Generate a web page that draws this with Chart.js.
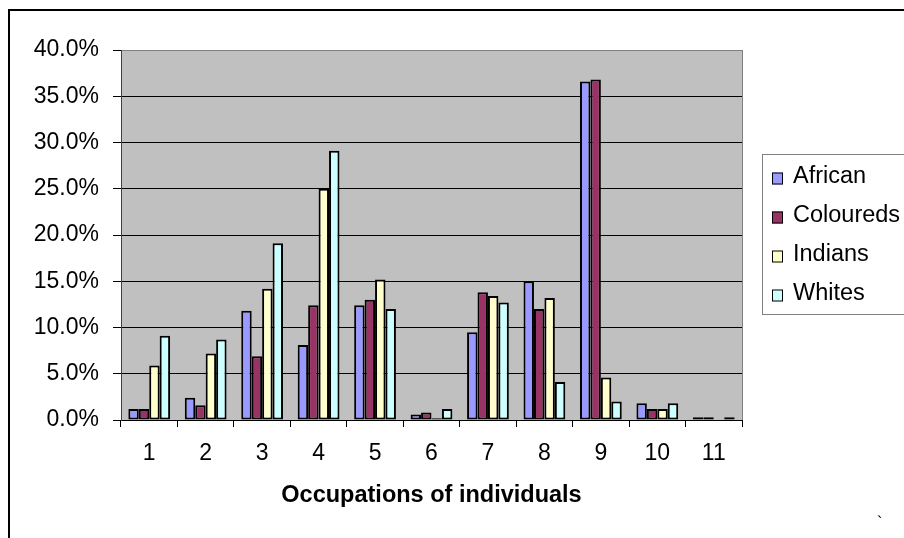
<!DOCTYPE html>
<html>
<head>
<meta charset="utf-8">
<script src="https://cdn.jsdelivr.net/npm/chart.js@4/dist/chart.umd.min.js"></script>
<style>
	body{ margin:0; overflow:hidden; background:#fff; }
	#box{ position:relative; width:904px; height:538px; }
</style>
</head>
<body>
<div id="box"><canvas id="grafica"></canvas></div>
<script>
	let ocupaciones = ["1","2","3","4","5","6","7","8","9","10","11"];
	let grupos = ["African","Coloureds","Indians","Whites"];
	let colores = ["#9999FF","#993366","#FFFFCC","#CCFFFF"];
	let african   = [1.2, 2.4, 11.8, 8.1, 12.4, 0.6, 9.5, 15.0, 36.6, 1.8, 0.3];
	let coloureds = [1.2, 1.6, 6.9, 12.4, 13.0, 0.8, 13.8, 12.0, 36.8, 1.2, 0.3];
	let indians   = [5.9, 7.2, 14.2, 25.0, 15.2, 0.2, 13.4, 13.2, 4.6, 1.2, 0];
	let whites    = [9.1, 8.7, 19.1, 29.1, 12.0, 1.2, 12.7, 4.1, 2.0, 1.8, 0.3];
	let yMax = 40, yPaso = 5;
	let tituloX = "Occupations of individuals";

	Chart.defaults.font.family = "'Liberation Sans', Arial, sans-serif";
	Chart.defaults.color = "#000";

	// fondo gris del area, marco exterior y leyenda
	let fondo = {
		id:"fondo",
		beforeDraw(chart){
			let a = chart.chartArea, ctx = chart.ctx;
			ctx.save();
			ctx.fillStyle = "#C0C0C0";
			ctx.fillRect(a.left, a.top, a.right - a.left, a.bottom - a.top);
			ctx.restore();
		},
		afterDraw(chart){
			let a = chart.chartArea, ctx = chart.ctx;
			ctx.save();
			ctx.strokeStyle = "#808080";
			ctx.lineWidth = 1;
			ctx.beginPath();
			ctx.moveTo(a.right + 0.5, a.top);
			ctx.lineTo(a.right + 0.5, a.bottom);
			ctx.stroke();
			ctx.strokeStyle = "#000";
			ctx.lineWidth = 2;
			ctx.strokeRect(9, 10, 1000, 1000);
			// leyenda
			ctx.strokeStyle = "#808080";
			ctx.lineWidth = 1;
			ctx.strokeRect(762.5, 154.5, 160, 160);
			ctx.font = "23.5px 'Liberation Sans', Arial, sans-serif";
			ctx.textBaseline = "alphabetic";
			chart.data.datasets.forEach(function(ds, i){
				let base = 182.5 + 39 * i;
				ctx.fillStyle = ds.backgroundColor;
				ctx.fillRect(772, base - 10, 11, 12);
				ctx.strokeStyle = "#000";
				ctx.lineWidth = 1;
				ctx.strokeRect(772.5, base - 9.5, 10, 11);
				ctx.fillStyle = "#000";
				ctx.fillText(ds.label, 793, base);
			});
			ctx.font = "16px 'Liberation Sans', Arial, sans-serif";
			ctx.fillText("`", 877, 528);
			ctx.restore();
		}
	};

	let series = [african, coloureds, indians, whites];

	new Chart(document.getElementById("grafica"),{
		type:"bar",
		data:{
			labels: ocupaciones,
			datasets: series.map(function(valores, i){
				return {
					label: grupos[i],
					data: valores,
					backgroundColor: colores[i],
					borderColor: "#000",
					borderWidth: 2,
					borderSkipped: false,
					categoryPercentage: 0.74,
					barPercentage: 1.0
				};
			})
		},
		options:{
			responsive: true,
			maintainAspectRatio: false,
			animation: false,
			layout:{ padding:{ top:50, right:162, bottom:0, left:0 } },
			plugins:{
				legend:{ display:false },
				tooltip:{ enabled:false }
			},
			scales:{
				x:{
					grid:{ offset:true, drawOnChartArea:false, drawTicks:true, tickLength:7, color:"#000" },
					border:{ color:"#000", width:1 },
					ticks:{ font:{ size:23 }, padding:13, color:"#000" },
					title:{ display:true, text:tituloX, font:{ size:23.5, weight:"bold" }, padding:{ top:0, bottom:28 }, color:"#000" },
					afterFit: function(scale){ scale.height = 118; }
				},
				y:{
					min:0,
					max:yMax,
					grid:{
						color: function(c){ return c.tick && c.tick.value == yMax ? "#808080" : "#000"; },
						tickColor:"#000",
						tickLength:8,
						lineWidth:1
					},
					border:{ color:"#404040", width:1 },
					ticks:{
						stepSize:yPaso,
						font:{ size:23 },
						padding:14,
						color:"#000",
						callback: function(v){ return v.toFixed(1) + "%"; }
					},
					afterFit: function(scale){ scale.width = 121; }
				}
			}
		},
		plugins:[fondo]
	});
</script>
</body>
</html>
